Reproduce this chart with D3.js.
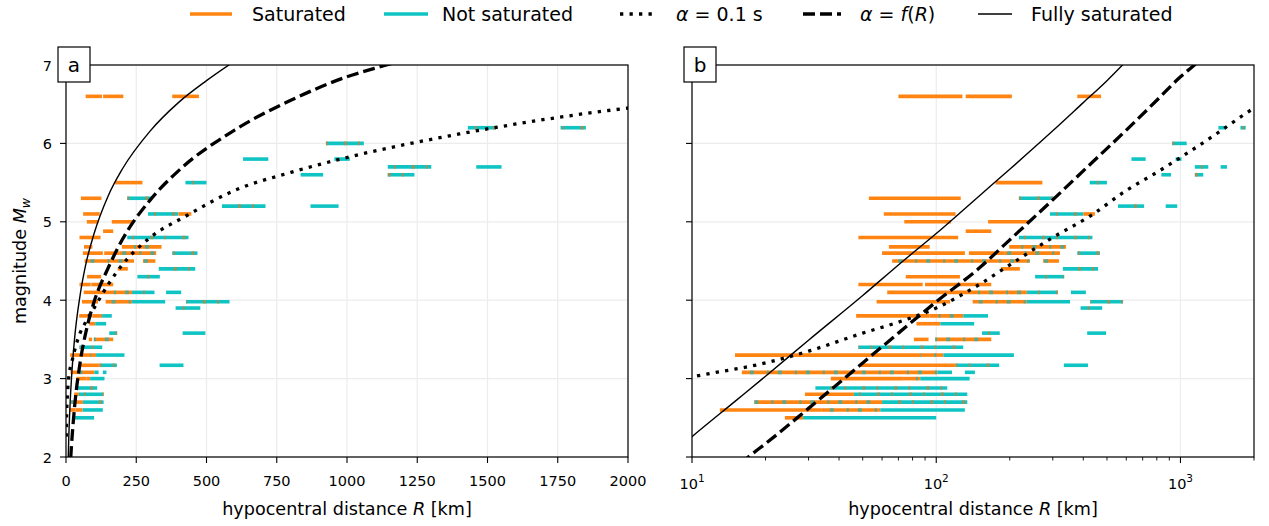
<!DOCTYPE html>
<html><head><meta charset="utf-8">
<script src="https://cdn.jsdelivr.net/npm/d3@7"></script>
<style>
body{margin:0;background:#fff;}
svg{font-family:"DejaVu Sans",sans-serif;}
</style></head><body>
<svg id="chart" width="1269" height="526"></svg>
<script>
// Event magnitudes (Mw), one row per event
const eventMw = [6.6, 6.2, 6.0, 5.8, 5.7, 5.6, 5.5, 5.3, 5.2, 5.1, 5.0, 4.88, 4.8, 4.68, 4.6, 4.5, 4.4, 4.3, 4.2, 4.1,
  3.98, 3.9, 3.8, 3.7, 3.58, 3.5, 3.4, 3.3, 3.17, 3.08, 3.0, 2.88, 2.8, 2.7, 2.6, 2.5];
// Hypocentral-distance spans [R0, R1, kind] for each event (km)
// S = saturated, N = not saturated, SN = mostly saturated, NS = mostly not saturated
const eventSpans = [
  [[70,128,"S"],[132,204,"S"],[378,473,"S"]],
  [[1430,1530,"NS"],[1760,1850,"NS"]],
  [[925,1060,"NS"]],
  [[630,720,"N"],[955,1010,"N"]],
  [[1145,1300,"NS"],[1460,1550,"N"]],
  [[835,915,"N"],[1145,1240,"NS"]],
  [[175,272,"S"],[425,500,"NS"]],
  [[53,126,"S"],[218,303,"NS"]],
  [[555,710,"NS"],[870,970,"N"]],
  [[61,120,"S"],[292,400,"NS"],[400,446,"S"]],
  [[74,115,"S"],[163,240,"S"]],
  [[132,168,"S"]],
  [[48,123,"S"],[218,436,"NS"]],
  [[64,94,"S"],[199,340,"SN"]],
  [[60,131,"S"],[136,190,"S"],[190,321,"SN"],[378,468,"NS"]],
  [[66,242,"SN"],[274,318,"SN"]],
  [[184,220,"S"],[330,460,"NS"]],
  [[75,125,"S"],[254,334,"NS"]],
  [[48,88,"S"],[90,168,"S"]],
  [[63,135,"S"],[135,235,"SN"],[235,315,"NS"],[356,410,"N"]],
  [[57,114,"S"],[141,235,"SN"],[235,353,"N"],[427,582,"NS"]],
  [[390,478,"NS"]],
  [[47,94,"S"],[94,129,"SN"],[129,163,"N"]],
  [[83,104,"S"],[104,143,"N"]],
  [[154,182,"NS"],[415,496,"N"]],
  [[81,93,"S"],[99,168,"SN"]],
  [[48,129,"NS"]],
  [[15,86,"S"],[86,107,"SN"],[107,208,"N"]],
  [[49,120,"S"],[120,181,"NS"],[333,418,"N"]],
  [[16,101,"SN"],[101,116,"N"],[131,144,"N"]],
  [[37,73,"S"],[73,86,"SN"],[86,137,"N"]],
  [[32,111,"NS"]],
  [[29,46,"S"],[46,134,"NS"]],
  [[18,60,"SN"],[60,134,"NS"]],
  [[13,34,"S"],[34,59,"SN"],[59,131,"N"]],
  [[24,28.5,"S"],[28.5,100,"N"]]
];

// Reference curves: magnitude vs hypocentral distance
const fullSatR = [4, 6, 8, 10, 15, 20, 30, 50, 70, 100, 150, 200, 300, 400, 500, 600];
const fullSatM = [1.23, 1.68, 2.0, 2.26, 2.71, 3.03, 3.49, 4.06, 4.45, 4.85, 5.33, 5.67, 6.16, 6.52, 6.80, 7.05];
const alphaFR = [14, 17, 20, 30, 50, 70, 100, 150, 200, 300, 400, 600, 800, 1000, 1140, 1300];
const alphaFM = [1.77, 2.0, 2.17, 2.62, 3.2, 3.58, 3.98, 4.41, 4.77, 5.28, 5.65, 6.17, 6.55, 6.85, 7.0, 7.17];
const alpha01R = [1, 2, 5, 10, 20, 30, 50, 70, 100, 150, 200, 300, 430, 600, 800, 1000, 1400, 2000, 2100];
const alpha01M = [2.26, 2.49, 2.79, 3.02, 3.2, 3.35, 3.58, 3.72, 3.9, 4.2, 4.45, 4.8, 5.08, 5.4, 5.63, 5.82, 6.12, 6.45, 6.49];

// Axis ticks
const linTicks = [0, 250, 500, 750, 1000, 1250, 1500, 1750, 2000];
const logMajor = [10, 100, 1000];
const logMinor = [20, 30, 40, 50, 60, 70, 80, 90, 200, 300, 400, 500, 600, 700, 800, 900, 2000];
const magTicks = [2, 3, 4, 5, 6, 7];

const ORANGE = "#ff8412", TEAL = "#10c4c4", FLECK_O = "#c4843a", FLECK_T = "#27b3b0";
const TICK_FONT = 14.5, LABEL_FONT = 17.6, LEGEND_FONT = 19;

const svg = d3.select("#chart");
const plotTop = 65, plotBottom = 457;
const y = d3.scaleLinear().domain([2, 7]).range([plotBottom, plotTop]);
const xA = d3.scaleLinear().domain([0, 2000]).range([66, 628]);
const xB = d3.scaleLog().domain([10, 2000]).range([692, 1254]);

function panel(x, id, label, isLog) {
  const [x0, x1] = x.range();
  const g = svg.append("g");
  // grid
  const gx = isLog ? logMajor : linTicks;
  g.selectAll(".vg").data(gx).join("line")
    .attr("x1", d => x(d)).attr("x2", d => x(d)).attr("y1", plotTop).attr("y2", plotBottom)
    .attr("stroke", "#ececec").attr("stroke-width", 1.2);
  g.selectAll(".hg").data(magTicks).join("line")
    .attr("x1", x0).attr("x2", x1).attr("y1", d => y(d)).attr("y2", d => y(d))
    .attr("stroke", "#ececec").attr("stroke-width", 1.2);

  svg.append("defs").append("clipPath").attr("id", id)
    .append("rect").attr("x", x0).attr("y", plotTop).attr("width", x1 - x0).attr("height", plotBottom - plotTop);
  const pg = svg.append("g").attr("clip-path", `url(#${id})`);

  // event spans
  const flat = [];
  eventSpans.forEach((spans, i) => spans.forEach((s, j) => flat.push({M: eventMw[i], r0: s[0], r1: s[1], k: s[2], i, j})));
  pg.selectAll(".seg").data(flat).join("line")
    .attr("x1", d => x(d.r0)).attr("x2", d => x(d.r1))
    .attr("y1", d => y(d.M)).attr("y2", d => y(d.M))
    .attr("stroke", d => (d.k === "S" || d.k === "SN") ? ORANGE : TEAL)
    .attr("stroke-width", 3.6).attr("stroke-linecap", "butt");
  pg.selectAll(".fleck").data(flat.filter(d => d.k === "SN" || d.k === "NS")).join("line")
    .attr("x1", d => x(d.r0)).attr("x2", d => x(d.r1))
    .attr("y1", d => y(d.M)).attr("y2", d => y(d.M))
    .attr("stroke", d => d.k === "SN" ? FLECK_T : FLECK_O)
    .attr("stroke-opacity", 0.75)
    .attr("stroke-width", 3.6)
    .attr("stroke-dasharray", d => d.k === "SN" ? "2,9,4,13" : "3,11,2,16")
    .attr("stroke-dashoffset", d => (d.i * 7 + d.j * 5) % 20);

  // reference curves
  const curve = (R, M) => d3.line().x(d => x(d[0])).y(d => y(d[1])).curve(d3.curveMonotoneX)(R.map((r, i) => [r, M[i]]));
  pg.append("path").attr("d", curve(alpha01R, alpha01M)).attr("fill", "none")
    .attr("stroke", "#000").attr("stroke-width", 3.3).attr("stroke-dasharray", "3.3,6.2");
  pg.append("path").attr("d", curve(alphaFR, alphaFM)).attr("fill", "none")
    .attr("stroke", "#000").attr("stroke-width", 3.3).attr("stroke-dasharray", "12,5");
  pg.append("path").attr("d", curve(fullSatR, fullSatM)).attr("fill", "none")
    .attr("stroke", "#000").attr("stroke-width", 1.4);

  // frame
  svg.append("rect").attr("x", x0).attr("y", plotTop).attr("width", x1 - x0).attr("height", plotBottom - plotTop)
    .attr("fill", "none").attr("stroke", "#000").attr("stroke-width", 1.2);

  // x axis
  const ax = svg.append("g").attr("font-size", TICK_FONT);
  if (!isLog) {
    ax.selectAll(".xt").data(linTicks).join("line")
      .attr("x1", d => x(d)).attr("x2", d => x(d)).attr("y1", plotBottom).attr("y2", plotBottom + 6)
      .attr("stroke", "#000").attr("stroke-width", 1.1);
    ax.selectAll(".xl").data(linTicks).join("text")
      .attr("x", d => x(d)).attr("y", plotBottom + 29).attr("text-anchor", "middle").text(d => d);
  } else {
    ax.selectAll(".xt").data(logMajor).join("line")
      .attr("x1", d => x(d)).attr("x2", d => x(d)).attr("y1", plotBottom).attr("y2", plotBottom + 6)
      .attr("stroke", "#000").attr("stroke-width", 1.1);
    ax.selectAll(".xm").data(logMinor).join("line")
      .attr("x1", d => x(d)).attr("x2", d => x(d)).attr("y1", plotBottom).attr("y2", plotBottom + 3.5)
      .attr("stroke", "#000").attr("stroke-width", 0.9);
    const tl = ax.selectAll(".xl").data(logMajor).join("text")
      .attr("x", d => x(d)).attr("y", plotBottom + 32).attr("text-anchor", "middle");
    tl.append("tspan").text("10");
    tl.append("tspan").attr("dy", -7).attr("font-size", 10.5).text(d => Math.round(Math.log10(d)));
  }
  // y axis ticks
  ax.selectAll(".yt").data(magTicks).join("line")
    .attr("x1", x0 - 6).attr("x2", x0).attr("y1", d => y(d)).attr("y2", d => y(d))
    .attr("stroke", "#000").attr("stroke-width", 1.1);
  if (!isLog) {
    ax.selectAll(".yl").data(magTicks).join("text")
      .attr("x", x0 - 14).attr("y", d => y(d) + 5.5).attr("text-anchor", "end").text(d => d);
  }
  // x label
  const xl = svg.append("text").attr("x", (x0 + x1) / 2).attr("y", 515).attr("text-anchor", "middle")
    .attr("font-size", LABEL_FONT);
  xl.append("tspan").text("hypocentral distance ");
  xl.append("tspan").attr("font-style", "italic").text("R");
  xl.append("tspan").text(" [km]");

  // panel letter
  svg.append("rect").attr("x", x0 - 8).attr("y", 47).attr("width", 32).attr("height", 35)
    .attr("fill", "#fff").attr("stroke", "#000").attr("stroke-width", 1.2);
  svg.append("text").attr("x", x0 + 8).attr("y", 72).attr("text-anchor", "middle")
    .attr("font-size", 20).text(label);
}

panel(xA, "clipA", "a", false);
panel(xB, "clipB", "b", true);

// y label
const yl = svg.append("text").attr("transform", `translate(26,${(plotTop + plotBottom) / 2}) rotate(-90)`)
  .attr("text-anchor", "middle").attr("font-size", LABEL_FONT);
yl.append("tspan").text("magnitude ");
yl.append("tspan").attr("font-style", "italic").text("M");
yl.append("tspan").attr("font-style", "italic").attr("font-size", 12.5).attr("dy", 4).text("w");

// legend
const legend = [
  {x: 190, w: 42, tx: 252, stroke: ORANGE, sw: 3.6, dash: null, parts: [["Saturated", false]]},
  {x: 384, w: 44, tx: 442, stroke: TEAL, sw: 3.6, dash: null, parts: [["Not saturated", false]]},
  {x: 620, w: 36, tx: 676, stroke: "#000", sw: 3.3, dash: "3.3,6.2", parts: [["α", true], [" = 0.1 s", false]]},
  {x: 803, w: 38, tx: 860, stroke: "#000", sw: 3.3, dash: "12,5", parts: [["α", true], [" = ", false], ["f", true], ["(", false], ["R", true], [")", false]]},
  {x: 978, w: 34, tx: 1031, stroke: "#000", sw: 1.4, dash: null, parts: [["Fully saturated", false]]}
];
const lg = svg.append("g");
legend.forEach(e => {
  lg.append("line").attr("x1", e.x).attr("x2", e.x + e.w).attr("y1", 14).attr("y2", 14)
    .attr("stroke", e.stroke).attr("stroke-width", e.sw).attr("stroke-dasharray", e.dash);
  const t = lg.append("text").attr("x", e.tx).attr("y", 21).attr("font-size", LEGEND_FONT);
  e.parts.forEach(p => t.append("tspan").attr("font-style", p[1] ? "italic" : null).text(p[0]));
});
</script>
</body></html>
